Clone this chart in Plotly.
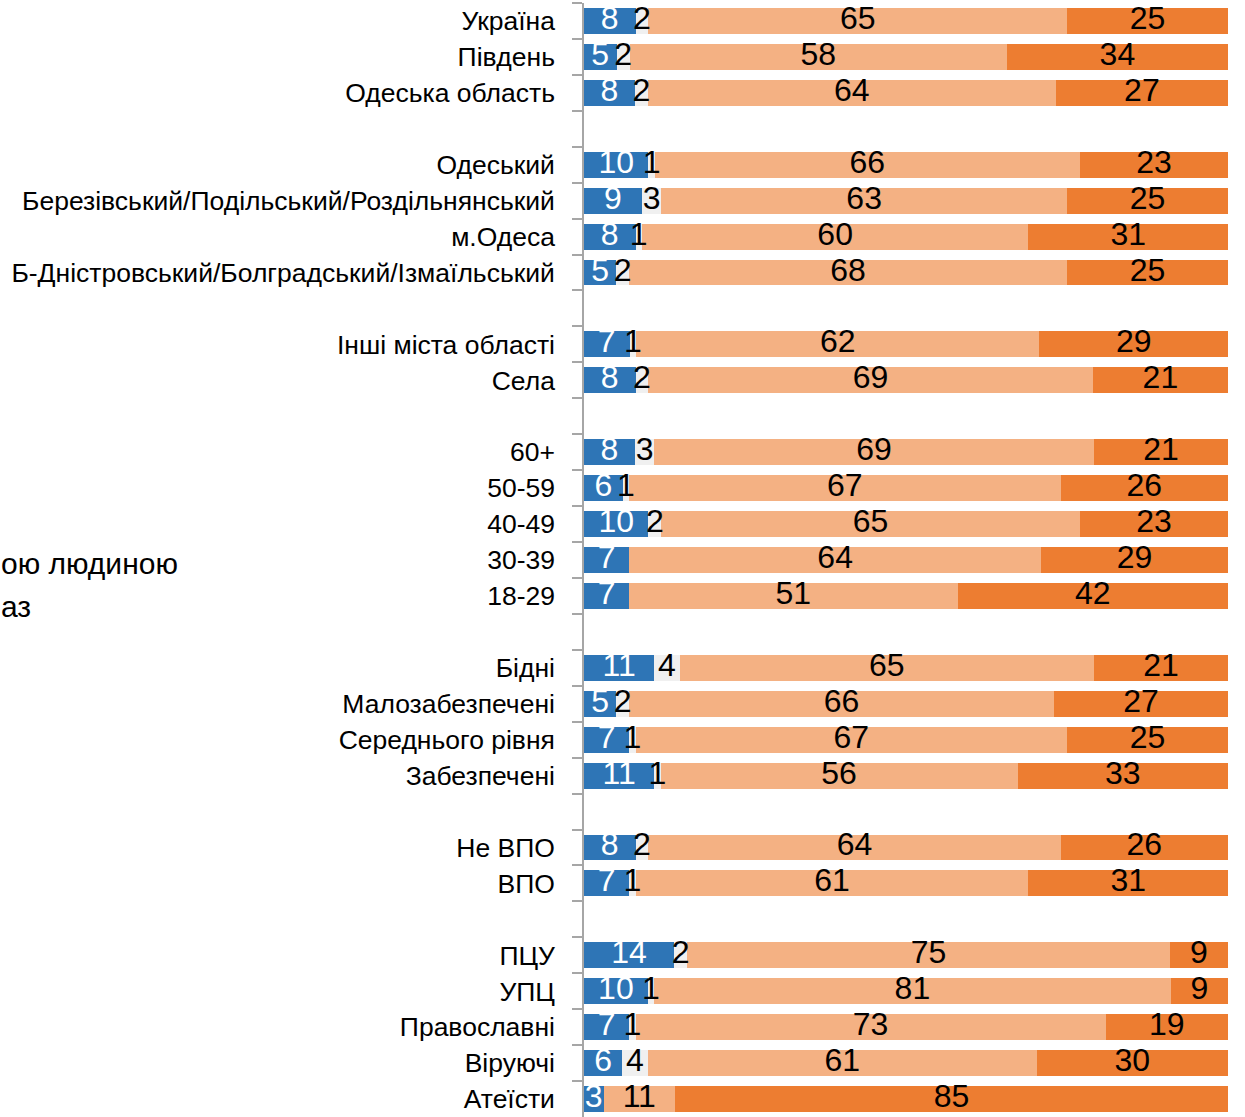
import plotly.graph_objects as go

# Groups of categories (top to bottom); a blank row separates groups
groups = [
    ["Україна", "Південь", "Одеська область"],
    ["Одеський", "Березівський/Подільський/Роздільнянський", "м.Одеса",
     "Б-Дністровський/Болградський/Ізмаїльський"],
    ["Інші міста області", "Села"],
    ["60+", "50-59", "40-49", "30-39", "18-29"],
    ["Бідні", "Малозабезпечені", "Середнього рівня", "Забезпечені"],
    ["Не ВПО", "ВПО"],
    ["ПЦУ", "УПЦ", "Православні", "Віруючі", "Атеїсти"],
]

blue_vals = [8, 5, 8, 10, 9, 8, 5, 7, 8, 8, 6, 10, 7, 7, 11, 5, 7, 11, 8, 7, 14, 10, 7, 6, 3]
grey_vals = [2, 2, 2, 1, 3, 1, 2, 1, 2, 3, 1, 2, 0, 0, 4, 2, 1, 1, 2, 1, 2, 1, 1, 4, 0]
light_vals = [65, 58, 64, 66, 63, 60, 68, 62, 69, 69, 67, 65, 64, 51, 65, 66, 67, 56, 64, 61, 75, 81, 73, 61, 11]
orange_vals = [25, 34, 27, 23, 25, 31, 25, 29, 21, 21, 26, 23, 29, 42, 21, 27, 25, 33, 26, 31, 9, 9, 19, 30, 85]

side_text = ["ою людиною", "аз"]

# build category list with blank separator rows
cats = []
labels = []
for gi, g in enumerate(groups):
    if gi > 0:
        cats.append(" " * gi)
    for c in g:
        cats.append(c)
        labels.append(c)

def expand(vals):
    m = dict(zip(labels, vals))
    return [m.get(c, None) for c in cats]

series = [
    (blue_vals, "#2E75B6", "white"),
    (grey_vals, "#F0F0F0", "black"),
    (light_vals, "#F4B183", "black"),
    (orange_vals, "#ED7D31", "black"),
]

NUM_FONT = "Liberation Sans Narrow, Arial Narrow, Liberation Sans, Arial, sans-serif"

# row totals for 100% normalisation
totals = [sum(t) for t in zip(*[s[0] for s in series])]

fig = go.Figure()
cum = [0.0] * len(labels)
text_traces = []
for vals, color, tcolor in series:
    pct = [v / t * 100 for v, t in zip(vals, totals)]
    centers = [c + p / 2 for c, p in zip(cum, pct)]
    cum = [c + p for c, p in zip(cum, pct)]
    fig.add_trace(go.Bar(
        y=cats, x=expand(pct), orientation="h",
        marker=dict(color=color, line=dict(width=0)),
        hoverinfo="skip", showlegend=False,
    ))
    shown = [(lab, cx, str(v)) for lab, cx, v in zip(labels, centers, vals) if v]
    text_traces.append(go.Scatter(
        y=[s[0] for s in shown], x=[s[1] for s in shown], text=[s[2] for s in shown],
        mode="text", textposition="middle center",
        textfont=dict(family=NUM_FONT, size=32, color=tcolor),
        cliponaxis=False, hoverinfo="skip", showlegend=False,
    ))
for t in text_traces:
    fig.add_trace(t)

W, H = 1245, 1117
ML, MR, MT, MB = 584, 17, 3, 0
PW, PH = W - ML - MR, H - MT - MB

fig.update_layout(
    width=W, height=H,
    margin=dict(l=ML, r=MR, t=MT, b=MB),
    barmode="stack", bargap=0.28,
    plot_bgcolor="white", paper_bgcolor="white",
    font=dict(family="Liberation Sans, Arial, sans-serif", color="black"),
)
fig.update_xaxes(range=[0, 100], visible=False, showgrid=False)
fig.update_yaxes(
    type="category", categoryorder="array", categoryarray=cats,
    range=[len(cats) - 0.5, -0.5], autorange=False,
    showline=True, linecolor="#A6A6A6", linewidth=1.5,
    ticks="outside", tickson="boundaries", ticklen=10, tickcolor="#A6A6A6",
    tickwidth=1.5, ticklabelstandoff=22,
    tickfont=dict(family="Liberation Sans, Arial, sans-serif", size=26.5, color="black"),
    showgrid=False, zeroline=False,
)

# cropped side text at the left edge
for txt, ypx in zip(side_text, [563, 606]):
    fig.add_annotation(text=txt, xref="paper", yref="paper",
                       x=-ML / PW - 1 / PW, xanchor="left",
                       y=1 - (ypx - MT) / PH, yanchor="middle",
                       showarrow=False,
                       font=dict(size=30, color="black",
                                 family="Liberation Sans, Arial, sans-serif"))

fig.write_html("out.html", config={"displayModeBar": False},
               post_script="document.body.style.margin='0';document.body.style.overflow='hidden';")
